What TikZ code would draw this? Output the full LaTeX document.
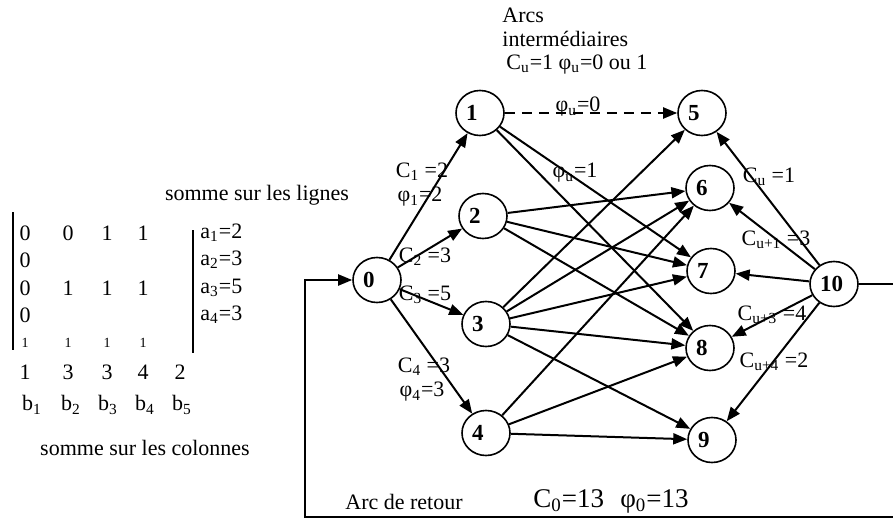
\documentclass[tikz,border=0pt]{standalone}
\usepackage{fontspec}
\setmainfont{Liberation Serif}
\usetikzlibrary{arrows.meta,shapes.geometric}

\begin{document}
\begin{tikzpicture}[x=0.5pt, y=-0.5pt, font=\fontsize{11}{12}\selectfont,
          >={Triangle[length=7pt,width=5.5pt]},
          vtx/.style={draw, ellipse, line width=0.8pt, minimum width=24pt, minimum height=22.5pt,
                      inner sep=0pt, text width=14pt, align=left, font=\fontsize{11.5}{12}\selectfont\bfseries},
          arc/.style={->, line width=1pt},
          lbl/.style={inner sep=0pt},
          tiny1/.style={inner sep=0pt, font=\fontsize{7}{7}\selectfont}]
        \useasboundingbox (0,0) rectangle (893,519);
        % graph nodes
        \node[vtx] (n0) at (377,280) {0};
        \node[vtx] (n1) at (480,113) {1};
        \node[vtx] (n2) at (483,216) {2};
        \node[vtx] (n3) at (486,324) {3};
        \node[vtx] (n4) at (486,433) {4};
        \node[vtx] (n5) at (702,113) {5};
        \node[vtx] (n6) at (710,188) {6};
        \node[vtx] (n7) at (711,271) {7};
        \node[vtx] (n8) at (710,348) {8};
        \node[vtx] (n9) at (712,440) {9};
        \node[vtx] (n10) at (834,284) {10};
        % arcs
        \foreach \b in {1,...,4} \draw[arc] (n0) -- (n\b);
        \draw[arc, dash pattern=on 5pt off 3.5pt] (n1) -- (n5);
        \foreach \a/\b in {1/7,1/8,2/6,2/7,2/8,3/5,3/6,3/7,3/8,3/9,4/6,4/8,4/9}
          \draw[arc] (n\a) -- (n\b);
        \foreach \b in {5,...,9} \draw[arc] (n10) -- (n\b);
        \coordinate (retb) at (305,517);
        \draw[arc] (n10.east) -- ++(80,0) |- (retb) |- (n0.west);
        % labels
        \node[lbl, align=left, anchor=north west, font=\fontsize{11}{11.6}\selectfont] (tarcs) at (502,8)
          {Arcs\\intermédiaires\\\hspace{2pt}C\textsubscript{u}=1 φ\textsubscript{u}=0 ou 1};
        \node[lbl] (lph0) at (578,107) {φ\textsubscript{u}=0};
        \node[lbl] (lph1) at (575,173) {φ\textsubscript{u}=1};
        \node[lbl] (lc1) at (422,172) {C\textsubscript{1} =2};
        \node[lbl] (lf1) at (420,197) {φ\textsubscript{1}=2};
        \node[lbl] (lc2) at (425,257) {C\textsubscript{2} =3};
        \node[lbl] (lc3) at (425,295) {C\textsubscript{3} =5};
        \node[lbl] (lc4) at (424,367) {C\textsubscript{4} =3};
        \node[lbl] (lf4) at (422,392) {φ\textsubscript{4}=3};
        \node[lbl] (lcu) at (769,177) {C\textsubscript{u} =1};
        \node[lbl] (lcu1) at (776,240) {C\textsubscript{u+1} =3};
        \node[lbl] (lcu3) at (772,315) {C\textsubscript{u+3} =4};
        \node[lbl] (lcu4) at (774,362) {C\textsubscript{u+4} =2};
        \node[lbl] (lret) at (404,502) {Arc de retour};
        \node[lbl, font=\fontsize{13.5}{14}\selectfont] (lc0) at (611,501)
          {C\textsubscript{0}=13\hspace{0.6em}φ\textsubscript{0}=13};
        % matrix
        \node[lbl] (slig) at (257,195) {somme sur les lignes};
        \draw[line width=0.75pt] (13,212) -- (13,350);
        \draw[line width=0.75pt] (193,230) -- (193,353);
        \node[lbl] (m11) at (25,233) {0};
        \node[lbl] (m12) at (68,233) {0};
        \node[lbl] (m13) at (107,233) {1};
        \node[lbl] (m14) at (143,233) {1};
        \node[lbl] (m21) at (25,260) {0};
        \node[lbl] (m31) at (25,288) {0};
        \node[lbl] (m32) at (68,288) {1};
        \node[lbl] (m33) at (107,288) {1};
        \node[lbl] (m34) at (143,288) {1};
        \node[lbl] (m41) at (25,315) {0};
        \node[tiny1] (m51) at (25,343) {1};
        \node[tiny1] (m52) at (68,343) {1};
        \node[tiny1] (m53) at (107,343) {1};
        \node[tiny1] (m54) at (143,343) {1};
        \node[lbl, anchor=west] (a1) at (200,233) {a\textsubscript{1}=2};
        \node[lbl, anchor=west] (a2) at (200,260) {a\textsubscript{2}=3};
        \node[lbl, anchor=west] (a3) at (200,288) {a\textsubscript{3}=5};
        \node[lbl, anchor=west] (a4) at (200,315) {a\textsubscript{4}=3};
        \node[lbl] (s1) at (25,372) {1};
        \node[lbl] (s2) at (68,372) {3};
        \node[lbl] (s3) at (107,372) {3};
        \node[lbl] (s4) at (143,372) {4};
        \node[lbl] (s5) at (180,372) {2};
        \node[lbl] (b1) at (32,405) {b\textsubscript{1}};
        \node[lbl] (b2) at (71,405) {b\textsubscript{2}};
        \node[lbl] (b3) at (108,405) {b\textsubscript{3}};
        \node[lbl] (b4) at (145,405) {b\textsubscript{4}};
        \node[lbl] (b5) at (182,405) {b\textsubscript{5}};
        \node[lbl] (scol) at (145,448) {somme sur les colonnes};
      \end{tikzpicture}
\end{document}
